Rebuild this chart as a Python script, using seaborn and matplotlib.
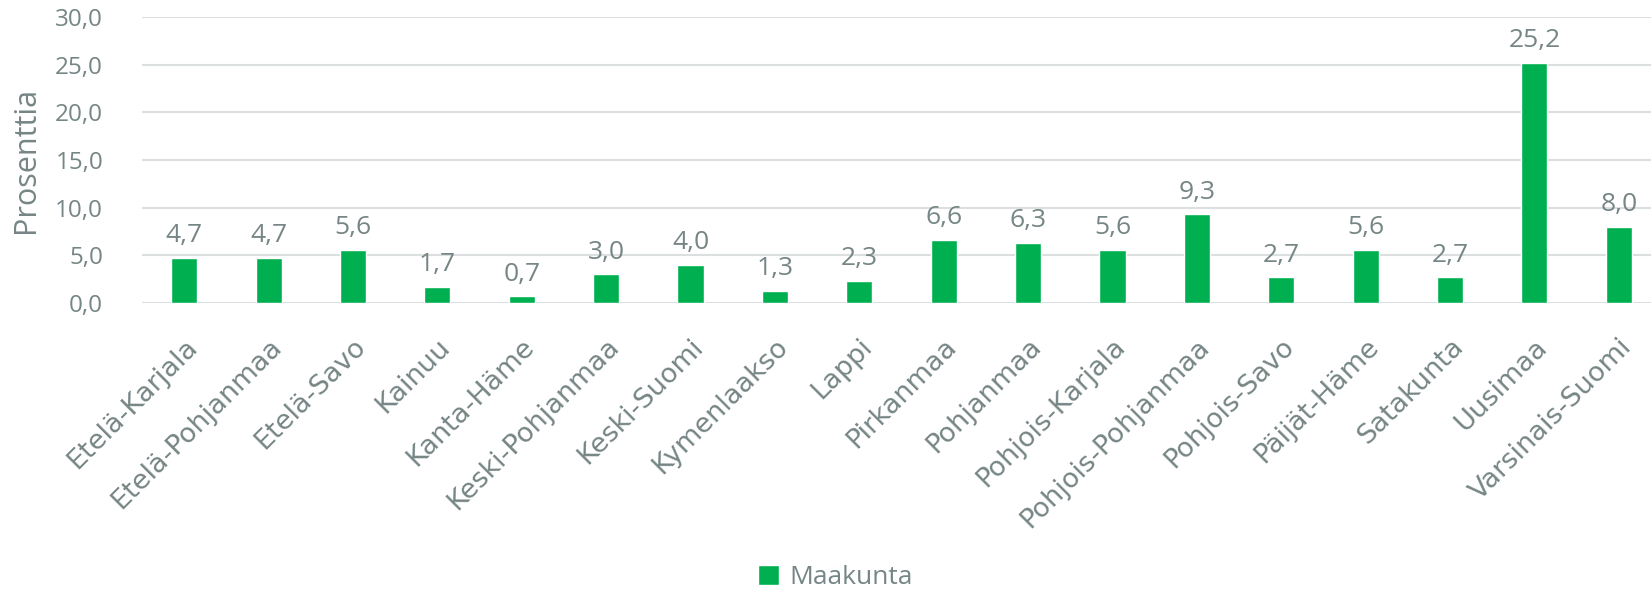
import matplotlib
matplotlib.use('Agg')
import matplotlib.pyplot as plt
import seaborn as sns
import pandas as pd

# data
maakunnat = ['Etelä-Karjala', 'Etelä-Pohjanmaa', 'Etelä-Savo', 'Kainuu',
             'Kanta-Häme', 'Keski-Pohjanmaa', 'Keski-Suomi', 'Kymenlaakso',
             'Lappi', 'Pirkanmaa', 'Pohjanmaa', 'Pohjois-Karjala',
             'Pohjois-Pohjanmaa', 'Pohjois-Savo', 'Päijät-Häme', 'Satakunta',
             'Uusimaa', 'Varsinais-Suomi']
prosentit = [4.7, 4.7, 5.6, 1.7, 0.7, 3.0, 4.0, 1.3, 2.3, 6.6, 6.3, 5.6,
             9.3, 2.7, 5.6, 2.7, 25.2, 8.0]
y_ticks = [0, 5, 10, 15, 20, 25, 30]
series_name = 'Maakunta'

GREEN = '#00b050'
GREY = '#768585'


def fi(v):
    return f'{v:.1f}'.replace('.', ',')


def main():
    df = pd.DataFrame({'maakunta': maakunnat, 'prosentti': prosentit})

    sns.set_theme(style='white')
    plt.rcParams['font.family'] = ['DejaVu Sans']

    fig = plt.figure(figsize=(16.51, 5.91), dpi=100)
    ax = fig.add_axes([142 / 1651, 288 / 591, 1519 / 1651, 286 / 591])

    sns.barplot(data=df, x='maakunta', y='prosentti', color=GREEN,
                width=0.31, saturation=1, label=series_name, ax=ax)
    handles, labels = ax.get_legend_handles_labels()
    if ax.get_legend() is not None:
        ax.get_legend().remove()

    ax.set_ylim(0, 30)
    ax.set_yticks(y_ticks)
    ax.set_yticklabels([fi(t) for t in y_ticks], fontsize=17.5, color=GREY,
                       family='Open Sans')
    ax.yaxis.grid(True, color='#dcdfdf', linewidth=1.5)
    ax.set_axisbelow(True)
    for s in ax.spines.values():
        s.set_visible(False)
    ax.tick_params(axis='y', length=0, pad=28)
    ax.tick_params(axis='x', length=0, pad=22)

    ax.set_xticks(range(len(maakunnat)))
    ax.set_xticklabels(maakunnat, rotation=45, ha='right',
                       rotation_mode='anchor', fontsize=19.5, color=GREY,
                       family='DejaVu Sans')
    ax.set_xlabel('')
    ax.set_ylabel('Prosenttia', fontsize=22, color=GREY, family='Open Sans',
                  labelpad=10)

    ax.bar_label(ax.containers[0], labels=[fi(v) for v in prosentit],
                 padding=7, fontsize=19, color=GREY, family='Open Sans')

    fig.legend(handles, labels, loc='center', bbox_to_anchor=(0.506, 0.023),
               frameon=False, handlelength=0.8, handleheight=0.8,
               handletextpad=0.4,
               prop={'family': 'Open Sans', 'size': 19}, labelcolor=GREY)

    fig.savefig('out.png', dpi=100)


if __name__ == '__main__':
    main()
